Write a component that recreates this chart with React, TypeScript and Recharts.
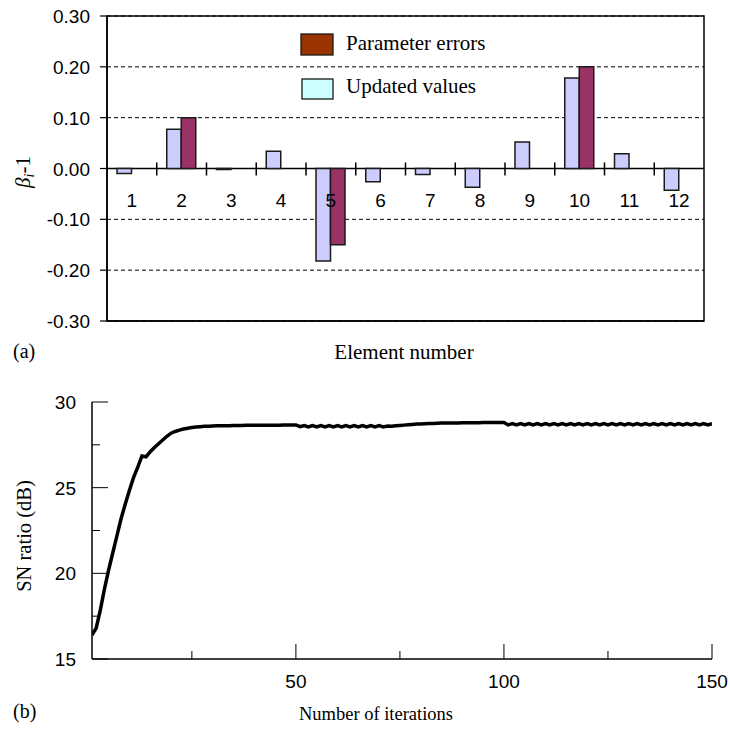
import React from "react";
import { ComposedChart, Bar, Scatter, Line, XAxis, YAxis, CartesianGrid, ReferenceArea } from "recharts";

const SANS = '"Liberation Sans", Arial, sans-serif';
const SERIF = '"Liberation Serif", "Times New Roman", serif';

// (a) element errors
const elements = ["1", "2", "3", "4", "5", "6", "7", "8", "9", "10", "11", "12"];
const elementNums = [1, 2, 3, 4, 5, 6, 7, 8, 9, 10, 11, 12];
const updatedValues = [-0.01, 0.077, -0.002, 0.034, -0.182, -0.026, -0.012, -0.037, 0.052, 0.178, 0.029, -0.043];
const parameterErrors = [null, 0.1, null, null, -0.15, null, null, null, null, 0.2, null, null];
const boundaries = [1.5, 2.5, 3.5, 4.5, 5.5, 6.5, 7.5, 8.5, 9.5, 10.5, 11.5];
const betaTicks = [-0.3, -0.2, -0.1, 0, 0.1, 0.2, 0.3];

// (b) SN ratio per iteration (1..150)
const snRatio = [
  16.4, 16.8, 17.85, 19.1, 20.2, 21.2, 22.2, 23.2, 24.05, 24.85,
  25.6, 26.2, 26.85, 26.8, 27.1, 27.34, 27.56, 27.78, 28.0, 28.18,
  28.28, 28.36, 28.42, 28.47, 28.51, 28.54, 28.56, 28.58, 28.59, 28.6,
  28.61, 28.61, 28.62, 28.62, 28.63, 28.63, 28.63, 28.64, 28.64, 28.64,
  28.64, 28.65, 28.65, 28.65, 28.65, 28.65, 28.66, 28.66, 28.66, 28.66,
  28.56, 28.63, 28.55, 28.63, 28.55, 28.63, 28.55, 28.63, 28.55, 28.63,
  28.55, 28.63, 28.55, 28.63, 28.55, 28.63, 28.55, 28.63, 28.55, 28.62,
  28.55, 28.6, 28.59, 28.61, 28.63, 28.65, 28.67, 28.69, 28.71, 28.72,
  28.73, 28.74, 28.75, 28.76, 28.77, 28.77, 28.78, 28.78, 28.78, 28.79,
  28.79, 28.79, 28.79, 28.79, 28.8, 28.8, 28.8, 28.8, 28.8, 28.8,
  28.66, 28.74, 28.66, 28.74, 28.66, 28.74, 28.66, 28.74, 28.66, 28.74,
  28.66, 28.74, 28.66, 28.74, 28.66, 28.74, 28.66, 28.74, 28.66, 28.74,
  28.66, 28.74, 28.66, 28.74, 28.66, 28.74, 28.66, 28.74, 28.66, 28.74,
  28.66, 28.74, 28.66, 28.74, 28.66, 28.74, 28.66, 28.74, 28.66, 28.74,
  28.66, 28.74, 28.66, 28.74, 28.66, 28.74, 28.66, 28.74, 28.66, 28.74,
];
const iterTicks = [25, 50, 75, 100, 125, 150];
const snTicks = [15, 17.5, 20, 22.5, 25, 27.5, 30];

const barData = elements.map((name, i) => ({
  name,
  updated: updatedValues[i],
  error: parameterErrors[i],
}));
const labelPoints = elementNums.map((x, i) => ({ x, y: 0, label: elements[i] }));
const boundaryPoints = boundaries.map((x) => ({ x, y: 0 }));
const snData = snRatio.map((sn, i) => ({ iter: i + 1, sn }));

// half-thickness of the solid zero line, in axis units
const ZERO_HALF = 0.0015;

const EmptyTick = () => <g />;

const CategoryLabel = (p: any) => (
  <text x={p.cx} y={p.cy + 38} textAnchor="middle" fontSize={19} fontFamily={SANS} fill="#000">
    {p.payload?.label}
  </text>
);

// drawn as filled rects (strokes on plain lines went missing in this chart)
const BoundaryTick = (p: any) => <rect x={p.cx - 0.75} y={p.cy - 6} width={1.5} height={13} fill="#000" />;

const BetaTick = (p: any) => {
  const v = p.payload.value;
  return (
    <g>
      <rect x={p.x - 7} y={p.y - 0.6} width={7} height={1.2} fill="#000" />
      <text x={p.x - 17} y={p.y + 7} textAnchor="end" fontSize={19} fontFamily={SANS} fill="#000">
        {v.toFixed(2)}
      </text>
    </g>
  );
};

const IterTick = (p: any) => {
  const v = p.payload.value;
  const major = v % 50 === 0;
  return (
    <g>
      <line x1={p.x} x2={p.x} y1={p.y} y2={p.y - (major ? 15 : 8)} stroke="#000" strokeWidth={1} />
      {major && (
        <text x={p.x} y={p.y + 29} textAnchor="middle" fontSize={19} fontFamily={SANS} fill="#000">
          {v}
        </text>
      )}
    </g>
  );
};

const TopTick = (p: any) => (
  <line x1={p.x} x2={p.x} y1={p.y} y2={p.y - 2} stroke="#000" strokeWidth={1} />
);

const SnTick = (p: any) => {
  const v = p.payload.value;
  const major = v % 5 === 0;
  return (
    <g>
      <line x1={p.x} x2={p.x + (major ? 16 : 8)} y1={p.y} y2={p.y} stroke="#000" strokeWidth={1} />
      {major && (
        <text x={p.x - 16} y={p.y + 7} textAnchor="end" fontSize={19} fontFamily={SANS} fill="#000">
          {v}
        </text>
      )}
    </g>
  );
};

const RightTick = (p: any) => (
  <line x1={p.x} x2={p.x - 3} y1={p.y} y2={p.y} stroke="#000" strokeWidth={1} />
);

export default function App() {
  const border = { stroke: "#000", strokeWidth: 1.5 };
  return (
    <div style={{ position: "absolute", left: 0, top: 0, width: 730, height: 729, background: "#fff" }}>
      <svg width={730} height={729} style={{ position: "absolute", left: 0, top: 0 }}>
        {/* legend (a) */}
        <rect x={301} y={34} width={32} height={21} fill="#993300" stroke="#1a1a1a" strokeWidth={1.3} />
        <text x={346} y={50} fontSize={21} fontFamily={SERIF} fill="#000">Parameter errors</text>
        <rect x={302} y={79} width={31} height={20} fill="#CCFFFF" stroke="#1a1a1a" strokeWidth={1.3} />
        <text x={346} y={93} fontSize={21} fontFamily={SERIF} fill="#000">Updated values</text>

        {/* axis titles */}
        <text transform="translate(30,172) rotate(-90)" textAnchor="middle" fontSize={21} fontFamily={SERIF} fill="#000">
          <tspan fontStyle="italic">β</tspan>
          <tspan fontStyle="italic" fontSize={14} dy={4}>i</tspan>
          <tspan dy={-4}>-1</tspan>
        </text>
        <text x={13} y={358} fontSize={20} fontFamily={SERIF} fill="#000">(a)</text>
        <text x={404} y={359} textAnchor="middle" fontSize={21} fontFamily={SERIF} fill="#000">Element number</text>

        <text transform="translate(31,536) rotate(-90)" textAnchor="middle" fontSize={20.5} fontFamily={SERIF} fill="#000">
          SN ratio (dB)
        </text>
        <text x={13} y={718} fontSize={20} fontFamily={SERIF} fill="#000">(b)</text>
        <text x={376} y={720} textAnchor="middle" fontSize={18.5} fontFamily={SERIF} fill="#000">Number of iterations</text>
      </svg>

      <div style={{ position: "absolute", left: 0, top: 0 }}>
        <ComposedChart
          width={730}
          height={340}
          data={barData}
          margin={{ top: 16, right: 26, bottom: 0, left: 60 }}
          barGap={0}
        >
          <CartesianGrid vertical={false} stroke="#000" strokeDasharray="4 3" />
          <XAxis dataKey="name" height={19} interval={0} tickSize={0} tickMargin={0} tick={EmptyTick} tickLine={false} axisLine={border} />
          <XAxis xAxisId="num" dataKey="x" type="number" domain={[0.5, 12.5]} allowDataOverflow hide />
          <YAxis
            domain={[-0.3, 0.3]}
            ticks={betaTicks}
            interval={0}
            width={47}
            tickSize={0}
            tickMargin={0}
            tick={BetaTick}
            tickLine={false}
            axisLine={border}
          />
          <Bar dataKey="updated" fill="#CCCCFF" stroke="#1a1a1a" strokeWidth={1.5} barSize={14.5} isAnimationActive={false} />
          <Bar dataKey="error" fill="#993366" stroke="#1a1a1a" strokeWidth={1.5} barSize={14.5} isAnimationActive={false} />
          <ReferenceArea
            xAxisId="num"
            x1={0.5}
            x2={12.5}
            y1={-ZERO_HALF}
            y2={ZERO_HALF}
            fill="#000"
            fillOpacity={1}
            stroke="none"
          />
          <ReferenceArea
            xAxisId="num"
            x1={0.5}
            x2={12.5}
            y1={-0.3}
            y2={0.3}
            fill="none"
            stroke="#000"
            strokeWidth={1.5}
          />
          <Scatter xAxisId="num" data={boundaryPoints} dataKey="y" shape={BoundaryTick} isAnimationActive={false} />
          <Scatter xAxisId="num" data={labelPoints} dataKey="y" shape={CategoryLabel} isAnimationActive={false} />
        </ComposedChart>
      </div>

      <div style={{ position: "absolute", left: 0, top: 370 }}>
        <ComposedChart width={730} height={359} data={snData} margin={{ top: 32, right: 18, bottom: 30, left: 0 }}>
          <XAxis
            dataKey="iter"
            type="number"
            domain={[1, 150]}
            ticks={iterTicks}
            interval={0}
            height={40}
            tickSize={0}
            tickMargin={0}
            tickLine={false}
            tick={IterTick}
            axisLine={border}
            allowDataOverflow
          />
          <XAxis
            xAxisId="top"
            dataKey="iter"
            type="number"
            orientation="top"
            domain={[1, 150]}
            ticks={iterTicks}
            interval={0}
            height={0}
            tickSize={0}
            tickMargin={0}
            tickLine={false}
            tick={TopTick}
            axisLine={border}
            allowDataOverflow
          />
          <YAxis
            domain={[15, 30]}
            ticks={snTicks}
            interval={0}
            width={92}
            tickSize={0}
            tickMargin={0}
            tickLine={false}
            tick={SnTick}
            axisLine={border}
            allowDataOverflow
          />
          <YAxis
            yAxisId="r"
            orientation="right"
            domain={[15, 30]}
            ticks={snTicks}
            interval={0}
            width={0}
            tickSize={0}
            tickMargin={0}
            tickLine={false}
            tick={RightTick}
            axisLine={border}
            allowDataOverflow
          />
          <Line dataKey="sn" type="linear" stroke="#000" strokeWidth={3.5} dot={false} isAnimationActive={false} />
        </ComposedChart>
      </div>
    </div>
  );
}
